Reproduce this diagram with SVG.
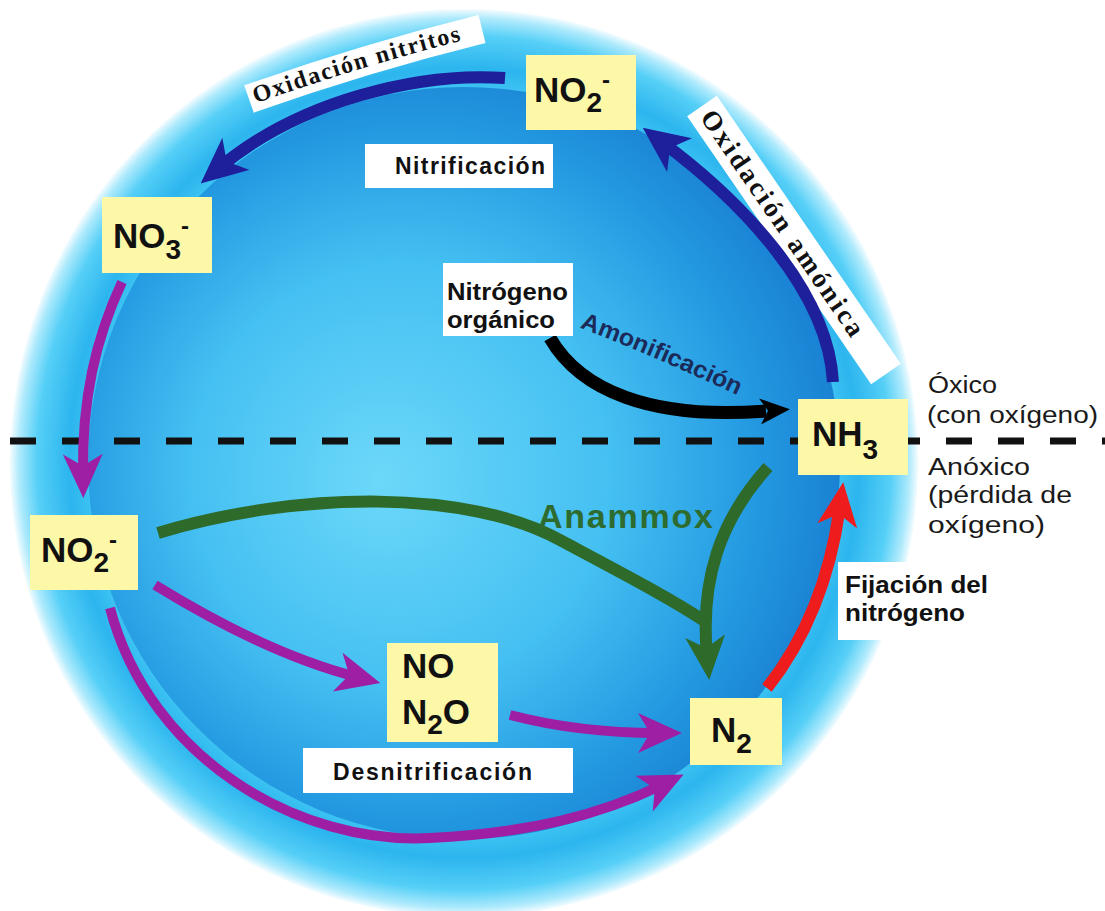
<svg xmlns="http://www.w3.org/2000/svg" width="1105" height="911" viewBox="0 0 1105 911">
  <defs>
    <radialGradient id="ringGrad" gradientUnits="userSpaceOnUse" cx="464" cy="463" r="454">
      <stop offset="0.80" stop-color="#46cbf5"/>
      <stop offset="0.87" stop-color="#2cb5ee"/>
      <stop offset="0.94" stop-color="#55cff7"/>
      <stop offset="0.98" stop-color="#aeeafc"/>
      <stop offset="1" stop-color="#f4fcff"/>
    </radialGradient>
    <radialGradient id="coreGrad" gradientUnits="userSpaceOnUse" cx="420" cy="470" r="420" fx="380" fy="480">
      <stop offset="0" stop-color="#6cd8f9"/>
      <stop offset="0.5" stop-color="#45c0f2"/>
      <stop offset="0.82" stop-color="#2399e1"/>
      <stop offset="1" stop-color="#1a82d3"/>
    </radialGradient>
    <marker id="hBlue" viewBox="0 0 46 42" refX="22" refY="21" markerWidth="46" markerHeight="42" markerUnits="userSpaceOnUse" orient="auto">
      <path d="M0,0 L46,21 L0,42 L12,21 Z" fill="#1d1f9b"/>
    </marker>
    <marker id="hPurple" viewBox="0 0 44 40" refX="20" refY="20" markerWidth="44" markerHeight="40" markerUnits="userSpaceOnUse" orient="auto">
      <path d="M0,0 L44,20 L0,40 L12,20 Z" fill="#9e1fa3"/>
    </marker>
    <marker id="hGreen" viewBox="0 0 44 40" refX="20" refY="20" markerWidth="44" markerHeight="40" markerUnits="userSpaceOnUse" orient="auto">
      <path d="M0,0 L44,20 L0,40 L12,20 Z" fill="#2e6a2a"/>
    </marker>
    <marker id="hRed" viewBox="0 0 44 40" refX="20" refY="20" markerWidth="44" markerHeight="40" markerUnits="userSpaceOnUse" orient="auto">
      <path d="M0,0 L44,20 L0,40 L12,20 Z" fill="#ee1c1c"/>
    </marker>
    <marker id="hBlack" viewBox="0 0 30 26" refX="6" refY="13" markerWidth="30" markerHeight="26" markerUnits="userSpaceOnUse" orient="auto">
      <path d="M0,0 L30,13 L0,26 L8,13 Z" fill="#000"/>
    </marker>
    <path id="pNitritos" d="M 251 105 Q 366 64 484 35"/>
    <path id="pAmonica" d="M 695 111 L 879 379"/>
    <path id="pAmonif" d="M 578 327 Q 655 356 752 402"/>
  </defs>
  <style>
    .node rect { fill: #fcf8a8; }
    .chem { font-family: "Liberation Sans", Arial, sans-serif; font-weight: bold; font-size: 35px; fill: #111; }
    .lbl rect { fill: #ffffff; }
    .lbl text { font-family: "Liberation Sans", Arial, sans-serif; font-weight: bold; font-size: 23px; fill: #111; }
    .side { font-family: "Liberation Sans", Arial, sans-serif; font-size: 23px; fill: #1a1a1a; }
    .serif { font-family: "Liberation Serif", "Times New Roman", serif; font-weight: bold; fill: #111; }
    .conn { fill: none; stroke-linecap: butt; }
    .blue { stroke: #1d1f9b; stroke-width: 12; marker-end: url(#hBlue); }
    .purple { stroke: #9e1fa3; stroke-width: 10; marker-end: url(#hPurple); }
    .green { stroke: #2e6a2a; stroke-width: 12; }
    .red { stroke: #ee1c1c; stroke-width: 12; marker-end: url(#hRed); }
    .black { stroke: #000; stroke-width: 13; marker-end: url(#hBlack); }
  </style>

  <rect x="0" y="0" width="1105" height="911" fill="#ffffff"/>

  <g id="sphere">
    <circle cx="464" cy="463" r="454" fill="url(#ringGrad)"/>
    <circle cx="464" cy="463" r="376" fill="url(#coreGrad)"/>
  </g>

  <g id="divider">
    <path d="M 10 441 H 1105" stroke="#111" stroke-width="7" stroke-dasharray="26 26" fill="none"/>
  </g>

  <g id="label-oxidacion-nitritos" class="lbl">
    <path d="M 249 99 Q 365 58 482 29" stroke="#ffffff" stroke-width="29" fill="none"/>
    <text class="serif" style="font-family:'Liberation Serif','Times New Roman',serif;font-size:24px"><textPath href="#pNitritos" startOffset="5" textLength="215" lengthAdjust="spacing">Oxidación nitritos</textPath></text>
  </g>

  <g id="label-oxidacion-amonica" class="lbl">
    <path d="M 702 106 L 886 374" stroke="#ffffff" stroke-width="36" fill="none"/>
    <text class="serif" style="font-family:'Liberation Serif','Times New Roman',serif;font-size:27px"><textPath href="#pAmonica" startOffset="8" textLength="268" lengthAdjust="spacing">Oxidación amónica</textPath></text>
  </g>

  <g id="connectors">
    <path id="c-nh3-no2" class="conn blue" d="M 833 382 C 828 290 740 200 662 142"/>
    <path id="c-no2-no3" class="conn blue" d="M 505 78 C 420 72 300 100 219 168"/>
    <path id="c-no3-no2" class="conn purple" d="M 122 282 C 95 340 82 400 83 474"/>
    <path id="c-no2-no" class="conn purple" d="M 155 585 C 220 625 290 660 357 677"/>
    <path id="c-no2-n2" class="conn purple" d="M 110 608 C 150 760 300 845 430 838 C 530 833 600 815 662 785"/>
    <path id="c-no-n2" class="conn purple" d="M 510 715 C 560 728 610 733 658 733"/>
    <path id="c-anammox-no2" class="conn green" d="M 158 533 C 300 490 470 490 560 540 C 620 572 670 598 706 622"/>
    <path id="c-anammox-nh3" class="conn green" d="M 768 467 C 720 520 700 580 707 656" marker-end="url(#hGreen)"/>
    <path id="c-amonif" class="conn black" d="M 550 338 C 580 390 650 420 766 411"/>
    <path id="c-fijacion" class="conn red" d="M 767 688 C 805 640 830 580 840 506"/>
  </g>

  <g id="label-amonificacion">
    <text style="font-family:'Liberation Sans',Arial,sans-serif;font-weight:bold;font-size:24px;fill:#1b2a58"><textPath href="#pAmonif" startOffset="2" textLength="172" lengthAdjust="spacingAndGlyphs">Amonificación</textPath></text>
  </g>

  <g id="label-anammox">
    <text x="538" y="528" textLength="175" lengthAdjust="spacing" style="font-family:'Liberation Sans',Arial,sans-serif;font-weight:bold;font-size:34px;fill:#2e6b2e">Anammox</text>
  </g>

  <g id="label-nitrificacion" class="lbl">
    <rect x="365" y="144" width="188" height="44"/>
    <text x="395" y="174" textLength="150" lengthAdjust="spacing">Nitrificación</text>
  </g>

  <g id="label-desnitrificacion" class="lbl">
    <rect x="303" y="748" width="270" height="45"/>
    <text x="333" y="780" textLength="199" lengthAdjust="spacing">Desnitrificación</text>
  </g>

  <g id="label-nitrogeno-organico" class="lbl">
    <rect x="443" y="263" width="130" height="73"/>
    <text x="447" y="300" textLength="121" lengthAdjust="spacingAndGlyphs">Nitrógeno</text>
    <text x="447" y="328" textLength="108" lengthAdjust="spacingAndGlyphs">orgánico</text>
  </g>

  <g id="label-fijacion" class="lbl">
    <rect x="838" y="562" width="160" height="78"/>
    <text x="845" y="593" textLength="143" lengthAdjust="spacingAndGlyphs">Fijación del</text>
    <text x="845" y="621" textLength="120" lengthAdjust="spacingAndGlyphs">nitrógeno</text>
  </g>

  <g id="label-oxico">
    <text class="side" x="928" y="393" textLength="69" lengthAdjust="spacingAndGlyphs">Óxico</text>
    <text class="side" x="927" y="423" textLength="171" lengthAdjust="spacingAndGlyphs">(con oxígeno)</text>
  </g>

  <g id="label-anoxico">
    <text class="side" x="928" y="475" textLength="102" lengthAdjust="spacingAndGlyphs">Anóxico</text>
    <text class="side" x="928" y="503" textLength="144" lengthAdjust="spacingAndGlyphs">(pérdida de</text>
    <text class="side" x="928" y="533" textLength="117" lengthAdjust="spacingAndGlyphs">oxígeno)</text>
  </g>

  <g id="node-no2-top" class="node">
    <rect x="526" y="55" width="110" height="75"/>
    <text class="chem" x="534" y="102">NO<tspan font-size="28" dy="10">2</tspan><tspan font-size="24" dy="-24">-</tspan></text>
  </g>

  <g id="node-no3" class="node">
    <rect x="102" y="197" width="110" height="76"/>
    <text class="chem" x="113" y="248">NO<tspan font-size="28" dy="11">3</tspan><tspan font-size="24" dy="-25">-</tspan></text>
  </g>

  <g id="node-no2-left" class="node">
    <rect x="30" y="515" width="108" height="75"/>
    <text class="chem" x="41" y="562">NO<tspan font-size="28" dy="10">2</tspan><tspan font-size="24" dy="-24">-</tspan></text>
  </g>

  <g id="node-no-n2o" class="node">
    <rect x="387" y="643" width="111" height="99"/>
    <text class="chem" x="402" y="678">NO</text>
    <text class="chem" x="402" y="724">N<tspan font-size="28" dy="10">2</tspan><tspan dy="-10">O</tspan></text>
  </g>

  <g id="node-n2" class="node">
    <rect x="690" y="698" width="92" height="67"/>
    <text class="chem" x="711" y="742">N<tspan font-size="28" dy="11">2</tspan></text>
  </g>

  <g id="node-nh3" class="node">
    <rect x="798" y="399" width="110" height="76"/>
    <text class="chem" x="812" y="446">NH<tspan font-size="28" dy="13">3</tspan></text>
  </g>
</svg>
